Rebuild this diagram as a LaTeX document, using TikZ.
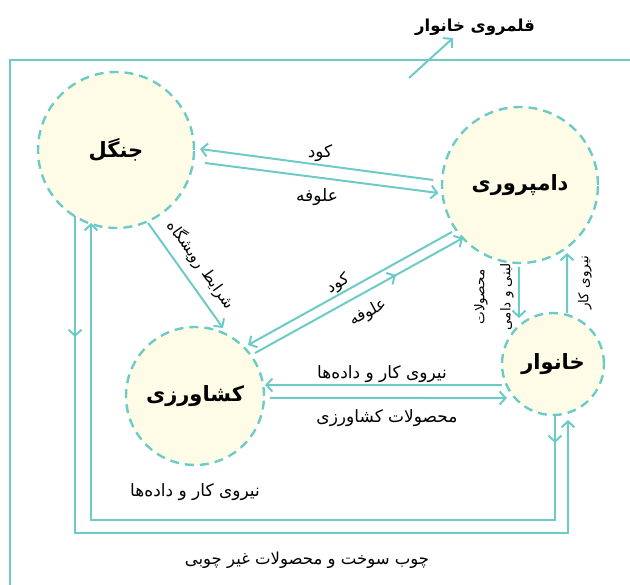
\documentclass[tikz,border=0pt]{standalone}
\usepackage{fontspec}
\usetikzlibrary{arrows.meta,calc,decorations.markings}
\newfontfamily\fa[Script=Arabic]{DejaVu Sans}
\TeXXeTstate=1
\newcommand\rtl[1]{\beginR #1\endR}
\definecolor{teal1}{HTML}{6DCBC7}
\definecolor{cream}{HTML}{FEFCE6}
\begin{document}
\begin{tikzpicture}[x=1pt,y=1pt,
  region/.style={circle, draw=teal1, fill=cream, line width=2.4pt, dash pattern=on 9pt off 6pt, inner sep=0pt, font=\fa\bfseries\fontsize{21}{24}\selectfont},
  flow/.style={color=teal1, line width=2pt, -{Straight Barb[length=6pt,width=13pt]}},
  midarr/.style={decoration={markings, mark=at position #1 with {\arrow{Straight Barb[length=6pt,width=13pt]}}}, postaction={decorate}},
  lbl/.style={font=\fa\fontsize{17}{20}\selectfont, inner sep=1pt},
  vlbl/.style={font=\fa\fontsize{13.5}{26}\selectfont, inner sep=1pt, rotate=90, align=center},
]
\useasboundingbox (0,0) rectangle (630,-585);
% frame
\draw[teal1, line width=2pt] (10,-585) -- (10,-60) -- (630,-60);
% regions
\node[region, minimum size=156pt] (jangal) at (116,-150) {\rtl{جنگل}};
\node[region, minimum size=156pt] (damp) at (520,-185) {\rtl{دامپروری}};
\node[region, minimum size=138pt] (kesh) at (195,-396) {\rtl{کشاورزی}};
\node[region, minimum size=102pt] (khan) at (553,-364) {\rtl{خانوار}};
% title
\node[font=\fa\bfseries\fontsize{16.5}{20}\selectfont] (title) at (475,-27) {\rtl{قلمروی خانوار}};
\coordinate (ttail) at (409,-78);
\coordinate (thead) at (453,-38);
\draw[flow] (ttail) -- (thead);
% forest <-> livestock
\draw[flow] ($(damp)+(176.7:87)$) -- ($(jangal)+(0.7:84)$);
\draw[flow] ($(jangal)+(-8.3:90)$) -- ($(damp)+(185.6:82)$);
% livestock <-> agriculture
\draw[flow] ($(damp)+(214.6:82.7)$) -- ($(kesh)+(43.9:73.5)$);
\draw[flow, midarr=161pt] ($(kesh)+(35.6:73.8)$) -- ($(damp)+(222.9:77.8)$);
% forest -> agriculture
\draw[flow] ($(jangal)+(-66.3:79.7)$) -- ($(kesh)+(67.6:73.5)$);
% livestock <-> household
\draw[flow] ($(damp)+(-90.7:82)$) -- ($(khan)+(126.5:57.2)$);
\draw[flow] ($(khan)+(74.6:52.9)$) -- ($(damp)+(-55.3:82.7)$);
% household <-> agriculture
\draw[flow] ($(khan)+(202.4:55.2)$) -- ($(kesh)+(8.9:70.9)$);
\draw[flow] ($(kesh)+(-1.5:75)$) -- ($(khan)+(216.5:57.2)$);
% loops
\coordinate (o1) at ($(jangal)+(238.2:77.7)$);
\coordinate (o2) at ($(khan)+(-75:58)$);
\draw[flow, midarr=121pt] (o1) -- (o1 |- 0,-533) -| (o2);
\coordinate (i1) at ($(khan)+(-87.8:51)$);
\coordinate (i2) at ($(jangal)+(251.1:77.2)$);
\draw[flow, midarr=28pt] (i1) -- (i1 |- 0,-520) -| (i2);
% labels
\node[lbl] (l1) at (320,-153) {\rtl{کود}};
\node[lbl] (l2) at (317,-197) {\rtl{علوفه}};
\node[lbl, font=\fa\fontsize{15.5}{19}\selectfont, rotate=-54.5] (l3) at (201,-265) {\rtl{شرایط رویشگاه}};
\node[lbl, font=\fa\fontsize{16}{19}\selectfont, rotate=28] (l4) at (338,-284) {\rtl{کود}};
\node[lbl, font=\fa\fontsize{16}{19}\selectfont, rotate=28] (l5) at (368,-313) {\rtl{علوفه}};
\node[vlbl] (l6) at (494,-297) {\rtl{محصولات}\\\rtl{لبنی و دامی}};
\node[vlbl] (l7) at (585,-283) {\rtl{نیروی کار}};
\node[lbl] (l8) at (382,-374) {\rtl{نیروی کار و داده‌ها}};
\node[lbl] (l9) at (387,-418) {\rtl{محصولات کشاورزی}};
\node[lbl] (l10) at (195,-492) {\rtl{نیروی کار و داده‌ها}};
\node[lbl, font=\fa\fontsize{16.5}{20}\selectfont] (l11) at (307,-560) {\rtl{چوب سوخت و محصولات غیر چوبی}};
\end{tikzpicture}
\end{document}
